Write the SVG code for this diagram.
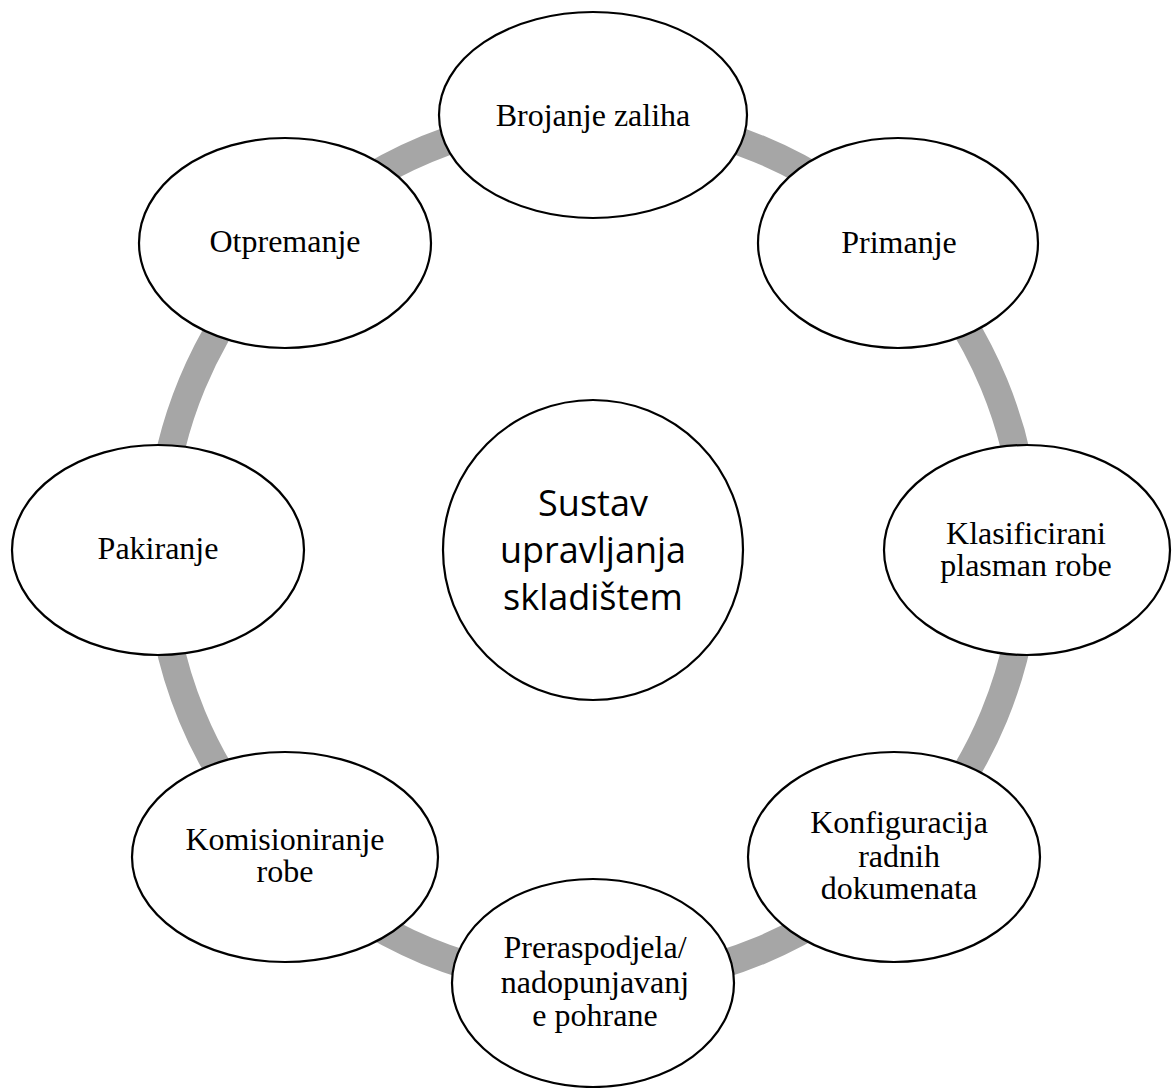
<svg xmlns="http://www.w3.org/2000/svg" width="1174" height="1088" viewBox="0 0 1174 1088">
<style>
.ring{fill:none;stroke:#A6A6A6;stroke-width:28}
.node{fill:#FFFFFF;stroke:#000000;stroke-width:2.2}
.lbl{font-family:"Liberation Serif","Times New Roman",serif;font-size:32px;fill:#000000;text-anchor:middle}
.ctr{font-family:"Open Sans","Noto Sans",sans-serif;font-size:36px;fill:#000000;text-anchor:middle}
</style>
<rect width="1174" height="1088" fill="#FFFFFF"/>
<g id="connectors">
<path class="ring" d="M593 116 A434 434 0 0 1 899.9 243.1"/>
<path class="ring" d="M899.9 243.1 A434 434 0 0 1 1027 550"/>
<path class="ring" d="M1027 550 A434 434 0 0 1 899.9 856.9"/>
<path class="ring" d="M899.9 856.9 A434 434 0 0 1 593 984"/>
<path class="ring" d="M593 984 A434 434 0 0 1 286.1 856.9"/>
<path class="ring" d="M286.1 856.9 A434 434 0 0 1 159 550"/>
<path class="ring" d="M159 550 A434 434 0 0 1 286.1 243.1"/>
<path class="ring" d="M286.1 243.1 A434 434 0 0 1 593 116"/>
</g>
<g id="center">
<circle class="node" cx="593" cy="550" r="150"/>
<text class="ctr" x="593" y="516">Sustav</text>
<text class="ctr" x="593" y="563">upravljanja</text>
<text class="ctr" x="593" y="610">skladištem</text>
</g>
<g id="brojanje">
<ellipse class="node" cx="593" cy="115" rx="154" ry="103"/>
<text class="lbl" x="593" y="126">Brojanje zaliha</text>
</g>
<g id="primanje">
<ellipse class="node" cx="898" cy="243" rx="140" ry="105"/>
<text class="lbl" x="899" y="253">Primanje</text>
</g>
<g id="klasificirani">
<ellipse class="node" cx="1027" cy="550" rx="143" ry="105"/>
<text class="lbl" x="1026" y="544">Klasificirani</text>
<text class="lbl" x="1026" y="576">plasman robe</text>
</g>
<g id="konfiguracija">
<ellipse class="node" cx="894" cy="857" rx="146" ry="105"/>
<text class="lbl" x="899" y="833">Konfiguracija</text>
<text class="lbl" x="899" y="867">radnih</text>
<text class="lbl" x="899" y="899">dokumenata</text>
</g>
<g id="preraspodjela">
<ellipse class="node" cx="593" cy="983" rx="141" ry="104"/>
<text class="lbl" x="595" y="958">Preraspodjela/</text>
<text class="lbl" x="595" y="993">nadopunjavanj</text>
<text class="lbl" x="595" y="1026">e pohrane</text>
</g>
<g id="komisioniranje">
<ellipse class="node" cx="285" cy="857" rx="153" ry="105"/>
<text class="lbl" x="285" y="850">Komisioniranje</text>
<text class="lbl" x="285" y="882">robe</text>
</g>
<g id="pakiranje">
<ellipse class="node" cx="158" cy="550" rx="146" ry="105"/>
<text class="lbl" x="158" y="559">Pakiranje</text>
</g>
<g id="otpremanje">
<ellipse class="node" cx="285" cy="243" rx="146" ry="105"/>
<text class="lbl" x="285" y="252">Otpremanje</text>
</g>
</svg>
